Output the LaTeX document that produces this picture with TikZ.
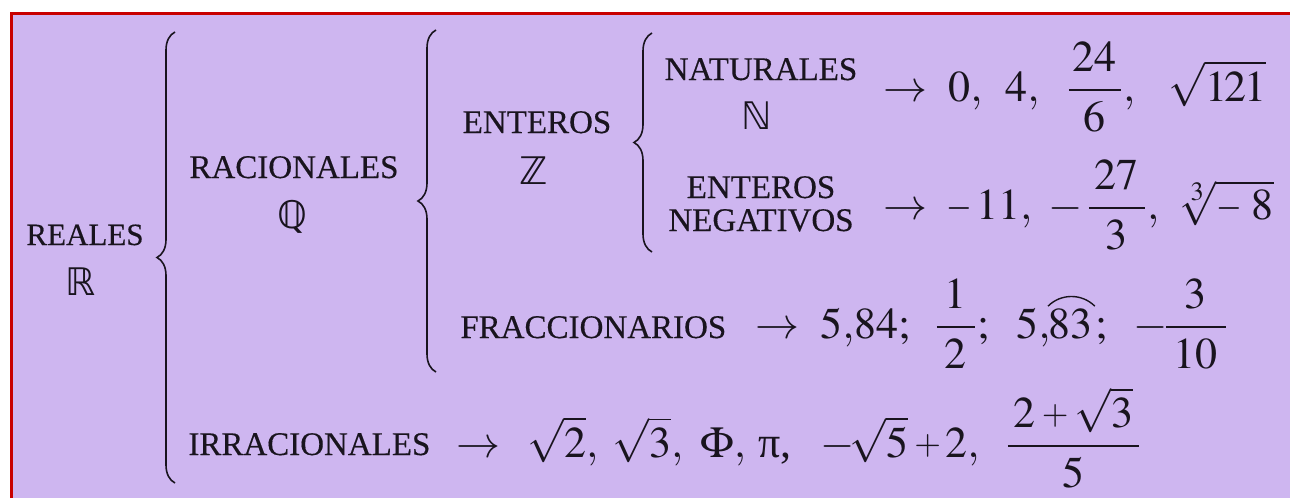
\documentclass[tikz,border=0pt]{standalone}
\usepackage{amsmath}
\usepackage{graphicx}
\usepackage{mathptmx}
\usepackage[no-math]{fontspec}
\setmainfont{Liberation Serif}
\newfontfamily\lblfont[FakeBold=0.35]{Liberation Serif}
\newfontfamily\dvs{DejaVu Sans}
\usetikzlibrary{decorations.pathreplacing}
\definecolor{lav}{RGB}{206,182,240}
\definecolor{framered}{RGB}{200,0,0}
\definecolor{ink}{RGB}{25,20,30}
\newcommand{\smallplus}{\mathbin{\raisebox{1.3pt}{\scalebox{0.78}{$+$}}}}
\newcommand{\smallminus}{\mathord{\scalebox{0.75}[1]{$-$}}}
\begin{document}
\begin{tikzpicture}[x=0.5pt,y=-0.5pt,
  lbl/.style={font=\lblfont\fontsize{16.5}{19}\selectfont, inner sep=0pt, anchor=base, text=ink},
  lblw/.style={lbl, anchor=base west},
  bb/.style={font=\dvs\fontsize{19}{22}\selectfont, inner sep=0pt, anchor=base, text=ink},
  m/.style={font=\fontsize{22}{26}\selectfont, inner sep=0pt, anchor=base west, text=ink},
  brc/.style={draw=ink, decorate, decoration={brace, amplitude=9pt}, line width=0.8pt}]
\useasboundingbox (0,0) rectangle (1290,498);
% background and frame
\fill[lav] (11,13) rectangle (1290,498);
\draw[framered, line width=1.75pt] (11.3,498) -- (11.3,13.3) -- (1290,13.3);
% labels
\node[lbl, font=\lblfont\fontsize{15.5}{18}\selectfont] (reales) at (85,245) {REALES};
\node[bb] (R) at (81,295) {ℝ};
\node[lbl] (racionales) at (294,178) {RACIONALES};
\node[bb] (Q) at (292,228) {ℚ};
\node[lblw] (irracionales) at (188,455) {IRRACIONALES};
\node[lbl] (enteros) at (537,133) {ENTEROS};
\node[bb] (Z) at (534,184) {ℤ};
\node[lbl] (naturales) at (761,80) {NATURALES};
\node[bb] (N) at (757,129) {ℕ};
\node[lbl] (entneg1) at (761,198) {ENTEROS};
\node[lbl] (entneg2) at (761,231) {NEGATIVOS};
\node[lblw] (fracc) at (460,338) {FRACCIONARIOS};
% braces
\draw[brc] (175,483) -- (175,32);
\draw[brc] (436,372) -- (436,30);
\draw[brc] (652,252) -- (652,33);
% row 1: naturales
\node[m] (r1arrow) at (883,101) {$\rightarrow$};
\node[m] (r1a) at (948,101) {$0,$};
\node[m] (r1b) at (1005,101) {$4,$};
\node[m] (r1c) at (1066,101) {$\dfrac{\kern2pt 24\kern2pt}{6},$};
\node[m] (r1d) at (1168,101) {$\sqrt{1\kern-1.5pt 2\kern-1pt 1}$};
% row 2: enteros negativos
\node[m] (r2arrow) at (883,219) {$\rightarrow$};
\node[m] (r2a) at (946,219) {$\smallminus\kern2pt 11,$};
\node[m] (r2b) at (1048,219) {$-$};
\node[m] (r2c) at (1086,219) {$\dfrac{\kern3pt 27\kern3pt}{3},$};
\node[m] (r2d) at (1178,219) {$\sqrt[3]{\smallminus\kern5pt 8}$};
% row 3: fraccionarios
\node[m] (r3arrow) at (755,338) {$\rightarrow$};
\node[m] (r3a) at (820,338) {$5{,}84;$};
\node[m] (r3b) at (934,338) {$\dfrac{\kern4pt 1\kern4pt}{2};$};
\node[m] (r3c) at (1016,338) {$5{,}$};
\node[m] (r3d) at (1048,338) {$83$};
\node[m] (r3e) at (1095,338) {$;$};
\node[m] (r3f) at (1133,338) {$-$};
\node[m] (r3g) at (1163,338) {$\dfrac{3}{\kern4pt 10\kern4pt}$};
\coordinate (arcL) at ([xshift=0pt,yshift=1pt]r3d.north west);
\coordinate (arcR) at ([xshift=1pt,yshift=1pt]r3d.north east);
\draw[ink, line width=0.7pt] (arcL) to[out=45,in=135] (arcR);
% row 4: irracionales
\node[m] (r4arrow) at (456,457) {$\rightarrow$};
\node[m] (r4a) at (527,457) {$\sqrt{2},$};
\node[m] (r4b) at (612,457) {$\sqrt{3},$};
\node[m] (r4c) at (700,457) {$\Phi,$};
\node[m] (r4d) at (758,457) {\mbox{π},};
\node[m] (r4e) at (820,457) {$-$};
\node[m] (r4f) at (849,457) {$\sqrt{5}$};
\node[m] (r4g) at (914,457) {$\smallplus$};
\node[m] (r4h) at (945,457) {$2,$};
\node[m] (r4i) at (1005,457) {$\dfrac{\kern3pt 2\smallplus\sqrt{3}\kern3pt}{5}$};
\end{tikzpicture}
\end{document}
